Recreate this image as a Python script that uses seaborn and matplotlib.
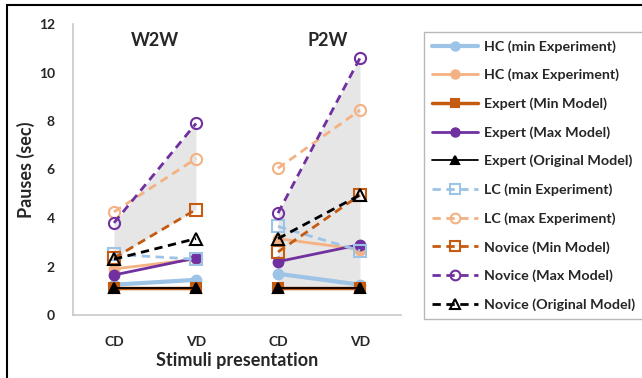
import matplotlib
matplotlib.use("Agg")
import matplotlib.pyplot as plt
import seaborn as sns
import numpy as np
import pandas as pd
from matplotlib.lines import Line2D
from matplotlib.patches import Rectangle

sns.set_theme(style="white")
plt.rcParams['font.family'] = ['Lato', 'DejaVu Sans']
plt.rcParams['font.weight'] = 'bold'

# ---- data ----
groups = ["W2W", "P2W"]
conditions = ["CD", "VD"]
tick_labels = ["CD", "VD", "CD", "VD"]

series_names = [
    "HC (min Experiment)",
    "HC (max Experiment)",
    "Expert (Min Model)",
    "Expert (Max Model)",
    "Expert (Original Model)",
    "LC (min Experiment)",
    "LC (max Experiment)",
    "Novice (Min Model)",
    "Novice (Max Model)",
    "Novice (Original Model)",
]

# values: [W2W CD, W2W VD, P2W CD, P2W VD]
hc_min = [1.25, 1.45, 1.7, 1.25]
hc_max = [1.9, 2.3, 3.15, 2.7]
expert_min = [1.1, 1.1, 1.1, 1.1]
expert_max = [1.65, 2.35, 2.2, 2.9]
expert_orig = [1.1, 1.1, 1.1, 1.1]
lc_min = [2.5, 2.3, 3.65, 2.65]
lc_max = [4.25, 6.45, 6.05, 8.45]
novice_min = [2.35, 4.35, 2.6, 4.95]
novice_max = [3.8, 7.9, 4.2, 10.6]
novice_orig = [2.3, 3.15, 3.15, 4.95]

# shaded range: [W2W CD, W2W VD, P2W CD, P2W VD]
shade_low = [2.35, 4.35, 1.1, 1.1]
shade_high = [3.8, 7.9, 4.2, 10.6]

values = [hc_min, hc_max, expert_min, expert_max, expert_orig,
          lc_min, lc_max, novice_min, novice_max, novice_orig]

# ---- styles ----
LB = "#9DC3E6"
LO = "#F4B183"
BR = "#C55A11"
PU = "#7030A0"
BK = "#000000"
styles = [
    dict(color=LB, lw=3.0, ls="-", marker="o", mfc=LB, ms=7),
    dict(color=LO, lw=2.0, ls="-", marker="o", mfc=LO, ms=7),
    dict(color=BR, lw=2.5, ls="-", marker="s", mfc=BR, ms=7),
    dict(color=PU, lw=2.0, ls="-", marker="o", mfc=PU, ms=7),
    dict(color=BK, lw=1.3, ls="-", marker="^", mfc=BK, ms=7),
    dict(color=LB, lw=2.0, ls=(0, (3, 2)), marker="s", mfc="none", ms=8),
    dict(color=LO, lw=2.0, ls=(0, (3, 2)), marker="o", mfc="none", ms=8),
    dict(color=BR, lw=2.0, ls=(0, (3, 2)), marker="s", mfc="none", ms=8),
    dict(color=PU, lw=2.0, ls=(0, (3, 2)), marker="o", mfc="none", ms=8),
    dict(color=BK, lw=2.0, ls=(0, (3, 2)), marker="^", mfc="none", ms=8),
]

positions = [0.5, 1.5, 2.5, 3.5]

fig = plt.figure(figsize=(6.42, 3.78), dpi=100)
ax = fig.add_axes([73/642, 63/378, 328/642, 291/378])

# shading
for g in range(2):
    xs = positions[2*g:2*g+2]
    ax.fill_between(xs, shade_low[2*g:2*g+2], shade_high[2*g:2*g+2],
                    color="#E6E6E6", lw=0, zorder=1)

for i, (name, vals, st) in enumerate(zip(series_names, values, styles)):
    for g in range(2):
        df = pd.DataFrame({"x": positions[2*g:2*g+2], "y": vals[2*g:2*g+2]})
        sns.lineplot(data=df, x="x", y="y", ax=ax, color=st["color"],
                     linewidth=st["lw"], linestyle=st["ls"], marker=st["marker"],
                     markersize=st["ms"], markerfacecolor=st["mfc"],
                     markeredgecolor=st["color"], markeredgewidth=1.5,
                     zorder=3 + i, legend=False)

ax.set_xlim(0, 4)
ax.set_ylim(0, 12)
ax.set_yticks(np.arange(0, 13, 2))
ax.set_yticklabels([str(v) for v in range(0, 13, 2)], fontsize=10, fontweight="bold")
ax.set_xticks(positions)
ax.set_xticklabels(tick_labels, fontsize=10, fontweight="bold")
ax.tick_params(axis="y", length=0, pad=13)
ax.tick_params(axis="x", length=0, pad=15)
ax.set_xlabel("Stimuli presentation", fontsize=13, fontweight="bold", labelpad=3)
ax.set_ylabel("Pauses (sec)", fontsize=13, fontweight="bold", labelpad=3)
for s in ["top", "right"]:
    ax.spines[s].set_visible(False)
for s in ["left", "bottom"]:
    ax.spines[s].set_color("#C8C8C8")
    ax.spines[s].set_linewidth(1.2)

ax.text(1.0, 11.3, groups[0], ha="center", va="center", fontsize=13, fontweight="bold")
ax.text(3.1, 11.3, groups[1], ha="center", va="center", fontsize=13, fontweight="bold")

handles = [Line2D([0], [0], color=st["color"], lw=st["lw"], ls=st["ls"],
                  marker=st["marker"], ms=st["ms"] - 1, mfc=st["mfc"],
                  mec=st["color"], mew=1.5) for st in styles]
leg = fig.legend(handles, series_names, loc="upper left",
                 bbox_to_anchor=(417/642, 1 - 25/378), frameon=True,
                 fancybox=False, edgecolor="#A6A6A6",
                 labelspacing=1.12, handlelength=3.2, handletextpad=0.4,
                 borderpad=0.55, prop=dict(weight="bold", size=10.3))
leg.get_frame().set_linewidth(1.0)

fig.patches.append(Rectangle((7/642, -0.1), 1.2, 1 - 5/378 + 0.1,
                             transform=fig.transFigure, fill=False,
                             edgecolor="black", lw=1.5))

fig.savefig("out.png", dpi=100)
